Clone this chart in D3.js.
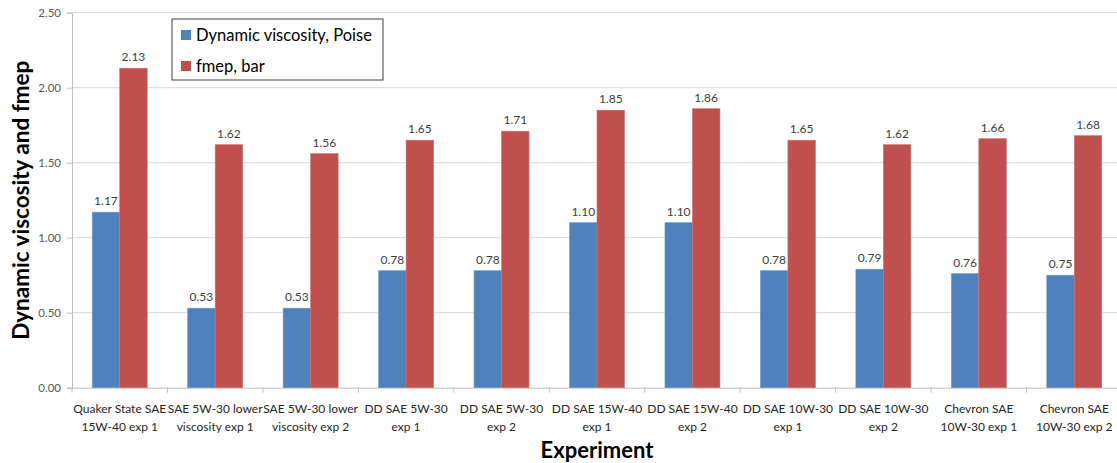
<!DOCTYPE html>
<html>
<head>
<meta charset="utf-8">
<script src="https://cdn.jsdelivr.net/npm/d3@7"></script>
<style>
  html, body { margin: 0; padding: 0; background: #fff; }
  svg { display: block; }
</style>
</head>
<body>
<svg id="chart" width="1117" height="463"></svg>
<script>
// Experiment labels (two lines each)
const categories = [
  ["Quaker State SAE", "15W-40 exp 1"],
  ["SAE 5W-30 lower", "viscosity exp 1"],
  ["SAE 5W-30 lower", "viscosity exp 2"],
  ["DD SAE 5W-30", "exp 1"],
  ["DD SAE 5W-30", "exp 2"],
  ["DD SAE 15W-40", "exp 1"],
  ["DD SAE 15W-40", "exp 2"],
  ["DD SAE 10W-30", "exp 1"],
  ["DD SAE 10W-30", "exp 2"],
  ["Chevron SAE", "10W-30 exp 1"],
  ["Chevron SAE", "10W-30 exp 2"]
];
const viscosity = [1.17, 0.53, 0.53, 0.78, 0.78, 1.10, 1.10, 0.78, 0.79, 0.76, 0.75];
const fmep = [2.13, 1.62, 1.56, 1.65, 1.71, 1.85, 1.86, 1.65, 1.62, 1.66, 1.68];
const seriesNames = ["Dynamic viscosity, Poise", "fmep, bar"];
const yTicks = [0, 0.5, 1.0, 1.5, 2.0, 2.5];

const colors = ["#4F81BD", "#C0504D"];
const font = "Lato, 'Open Sans', sans-serif";

const svg = d3.select("#chart");
const margin = { left: 72, right: -5, top: 12.7, bottom: 75.3 };
const W = 1117, H = 463;
const x0 = margin.left, x1 = W - margin.right;
const yTop = margin.top, yBot = H - margin.bottom;

const x = d3.scaleBand()
  .domain(d3.range(categories.length))
  .range([x0, x1])
  .paddingInner(0.424)
  .paddingOuter(0.212);
const xs = d3.scaleBand().domain([0, 1]).range([0, x.bandwidth()]);
const y = d3.scaleLinear().domain([0, 2.5]).range([yBot, yTop]);

// horizontal gridlines
svg.append("g")
  .selectAll("line")
  .data(yTicks.filter(d => d > 0))
  .join("line")
  .attr("x1", x0).attr("x2", x1)
  .attr("y1", d => y(d)).attr("y2", d => y(d))
  .attr("stroke", "#d9d9d9").attr("stroke-width", 1);

// y axis
const yAxis = svg.append("g")
  .attr("transform", `translate(${x0},0)`)
  .call(d3.axisLeft(y).tickValues(yTicks).tickFormat(d3.format(".2f")).tickSize(5).tickPadding(6));
yAxis.select(".domain").attr("stroke", "#bfbfbf");
yAxis.selectAll(".tick line").attr("stroke", "#bfbfbf");
yAxis.selectAll("text").attr("fill", "#595959").style("font-family", font).style("font-size", "11.5px");

// x axis with category boundary ticks
const xAxisG = svg.append("g").attr("transform", `translate(0,${yBot})`);
xAxisG.append("line").attr("x1", x0).attr("x2", x1).attr("y1", 0.5).attr("y2", 0.5).attr("stroke", "#bfbfbf");
const step = x.step();
xAxisG.selectAll("line.tk")
  .data(d3.range(categories.length + 1))
  .join("line").attr("class", "tk")
  .attr("x1", i => x0 + i * step).attr("x2", i => x0 + i * step)
  .attr("y1", 0).attr("y2", 5)
  .attr("stroke", "#bfbfbf");

const labels = xAxisG.selectAll("text.cat")
  .data(categories)
  .join("text").attr("class", "cat")
  .attr("text-anchor", "middle")
  .attr("fill", "#262626")
  .style("font-family", font).style("font-size", "12px");
labels.each(function (d, i) {
  const t = d3.select(this);
  const cx = x(i) + x.bandwidth() / 2;
  d.forEach((line, j) => {
    t.append("tspan").attr("x", cx).attr("y", 25 + j * 18).text(line);
  });
});

// bars
const series = [viscosity, fmep];
series.forEach((vals, s) => {
  svg.append("g").selectAll("rect")
    .data(vals)
    .join("rect")
    .attr("x", (d, i) => x(i) + xs(s))
    .attr("width", xs.bandwidth())
    .attr("y", d => y(d))
    .attr("height", d => yBot - y(d))
    .attr("fill", colors[s])
    .attr("stroke", s === 0 ? "#6f97cb" : "#cf6f6c")
    .attr("stroke-width", 0.6);
  svg.append("g").selectAll("text")
    .data(vals)
    .join("text")
    .attr("x", (d, i) => x(i) + xs(s) + xs.bandwidth() / 2)
    .attr("y", d => y(d) - 7)
    .attr("text-anchor", "middle")
    .attr("fill", "#404040")
    .style("font-family", font).style("font-size", "12px")
    .text(d => d.toFixed(2));
});

// axis titles
svg.append("text")
  .attr("transform", `translate(29,${(yTop + yBot) / 2}) rotate(-90)`)
  .attr("text-anchor", "middle")
  .style("font-family", font).style("font-weight", "bold").style("font-size", "22.5px")
  .attr("fill", "#000")
  .text("Dynamic viscosity and fmep");
svg.append("text")
  .attr("x", 597).attr("y", 458)
  .attr("text-anchor", "middle")
  .style("font-family", font).style("font-weight", "bold").style("font-size", "22px")
  .attr("fill", "#000")
  .text("Experiment");

// legend
const lg = svg.append("g").attr("transform", "translate(172,19)");
lg.append("rect").attr("width", 211).attr("height", 61)
  .attr("fill", "#fff").attr("stroke", "#404040").attr("stroke-width", 1);
seriesNames.forEach((name, i) => {
  const row = lg.append("g").attr("transform", `translate(0,${16 + i * 31})`);
  row.append("rect").attr("x", 9).attr("y", -5).attr("width", 10).attr("height", 10).attr("fill", colors[i]);
  row.append("text").attr("x", 24).attr("y", 6)
    .style("font-family", font).style("font-size", "16.5px").attr("fill", "#000")
    .text(name);
});
</script>
</body>
</html>
